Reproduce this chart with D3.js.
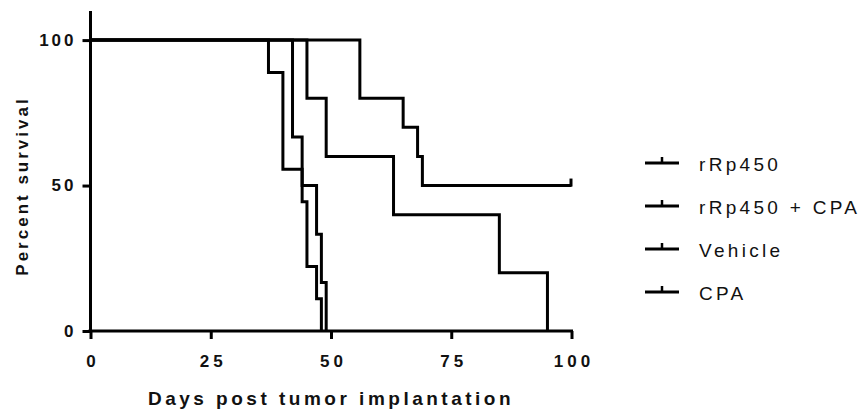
<!DOCTYPE html>
<html>
<head>
<meta charset="utf-8">
<script src="https://cdn.jsdelivr.net/npm/d3@7/dist/d3.min.js"></script>
<style>
  html, body { margin: 0; padding: 0; background: #fff; }
  svg { display: block; font-family: "Liberation Sans", Arial, sans-serif; }
</style>
</head>
<body>
<svg id="chart" width="865" height="410"></svg>
<script>
// ---- data ----
const groupNames = ["rRp450", "rRp450 + CPA", "Vehicle", "CPA"];

const rRp450Days = [0, 45, 49, 63, 85, 95];
const rRp450Surv = [100, 80, 60, 40, 20, 0];

const rRp450CpaDays = [0, 56, 65, 68, 69, 100];
const rRp450CpaSurv = [100, 80, 70, 60, 50, 50];

const vehicleDays = [0, 37, 40, 44, 45, 47, 48];
const vehicleSurv = [100, 88.9, 55.6, 44.4, 22.2, 11.1, 0];

const cpaDays = [0, 42, 44, 47, 48, 49];
const cpaSurv = [100, 66.7, 50, 33.3, 16.7, 0];

const censorDays = [[], [100], [], []];
const censorSurv = [[], [50], [], []];

const xTicks = [0, 25, 50, 75, 100];
const yTicks = [0, 50, 100];

const xTitle = "Days post tumor implantation";
const yTitle = "Percent survival";

// ---- build ----
const series = [
  { name: groupNames[0], days: rRp450Days, surv: rRp450Surv, cd: censorDays[0], cs: censorSurv[0] },
  { name: groupNames[1], days: rRp450CpaDays, surv: rRp450CpaSurv, cd: censorDays[1], cs: censorSurv[1] },
  { name: groupNames[2], days: vehicleDays, surv: vehicleSurv, cd: censorDays[2], cs: censorSurv[2] },
  { name: groupNames[3], days: cpaDays, surv: cpaSurv, cd: censorDays[3], cs: censorSurv[3] }
];

const svg = d3.select("#chart");
const x = d3.scaleLinear().domain([0, 100]).range([90.5, 571.5]);
const y = d3.scaleLinear().domain([0, 110]).range([331, 11]);

const lw = 3;

// survival curves
const line = d3.line().x(d => x(d[0])).y(d => y(d[1])).curve(d3.curveStepAfter);
const gCurves = svg.append("g");
series.forEach(s => {
  const pts = s.days.map((d, i) => [d, s.surv[i]]);
  gCurves.append("path")
    .attr("d", line(pts))
    .attr("fill", "none")
    .attr("stroke", "#000")
    .attr("stroke-width", lw)
    .attr("stroke-linejoin", "miter");
  s.cd.forEach((d, i) => {
    gCurves.append("line")
      .attr("x1", x(d) - 0.5).attr("x2", x(d) - 0.5)
      .attr("y1", y(s.cs[i]) + 1).attr("y2", y(s.cs[i]) - 7)
      .attr("stroke", "#000").attr("stroke-width", lw);
  });
});

// x axis
const xAxis = d3.axisBottom(x).tickValues(xTicks).tickSize(8).tickSizeOuter(0).tickPadding(16);
const gx = svg.append("g").attr("transform", "translate(0,331)").call(xAxis);
gx.select(".domain").attr("d", `M${x(0) - 2},0H${x(100) + 1.5}`).attr("stroke-width", lw).attr("stroke", "#000");
gx.selectAll(".tick line").attr("stroke-width", lw).attr("stroke", "#000");
gx.selectAll(".tick text")
  .attr("font-size", 17).attr("font-weight", "bold")
  .attr("font-family", "'Liberation Sans', Arial, sans-serif")
  .attr("fill", "#111")
  .style("letter-spacing", "4px")
  .attr("dx", "2px");

// y axis
const yAxis = d3.axisLeft(y).tickValues(yTicks).tickSize(8).tickSizeOuter(0).tickPadding(6);
const gy = svg.append("g").attr("transform", "translate(90.5,0)").call(yAxis);
gy.select(".domain").attr("d", `M0,${y(110)}V${y(0) + 1.5}`).attr("stroke-width", lw).attr("stroke", "#000");
gy.selectAll(".tick line").attr("stroke-width", lw).attr("stroke", "#000");
gy.selectAll(".tick text")
  .attr("font-size", 17).attr("font-weight", "bold")
  .attr("font-family", "'Liberation Sans', Arial, sans-serif")
  .attr("fill", "#111")
  .style("letter-spacing", "3px")
  .attr("dx", "0px");

// axis titles
svg.append("text")
  .attr("x", 331).attr("y", 405)
  .attr("text-anchor", "middle")
  .attr("font-size", 19).attr("font-weight", "bold")
  .style("letter-spacing", "3.5px")
  .attr("fill", "#111")
  .text(xTitle);

svg.append("text")
  .attr("transform", "translate(28,186) rotate(-90)")
  .attr("text-anchor", "middle")
  .attr("font-size", 17).attr("font-weight", "bold")
  .style("letter-spacing", "3px")
  .attr("fill", "#111")
  .text(yTitle);

// legend
const legY = [163, 206, 249, 292];
const gLeg = svg.append("g");
series.forEach((s, i) => {
  const g = gLeg.append("g").attr("transform", `translate(0,${legY[i]})`);
  g.append("line").attr("x1", 645).attr("x2", 679).attr("y1", 0).attr("y2", 0)
    .attr("stroke", "#000").attr("stroke-width", lw);
  g.append("line").attr("x1", 662).attr("x2", 662).attr("y1", 0).attr("y2", -6)
    .attr("stroke", "#000").attr("stroke-width", 2.5);
  g.append("text").attr("x", 699).attr("y", 8)
    .attr("font-size", 19)
    .style("letter-spacing", "3.3px")
    .attr("fill", "#111")
    .text(s.name);
});
</script>
</body>
</html>
